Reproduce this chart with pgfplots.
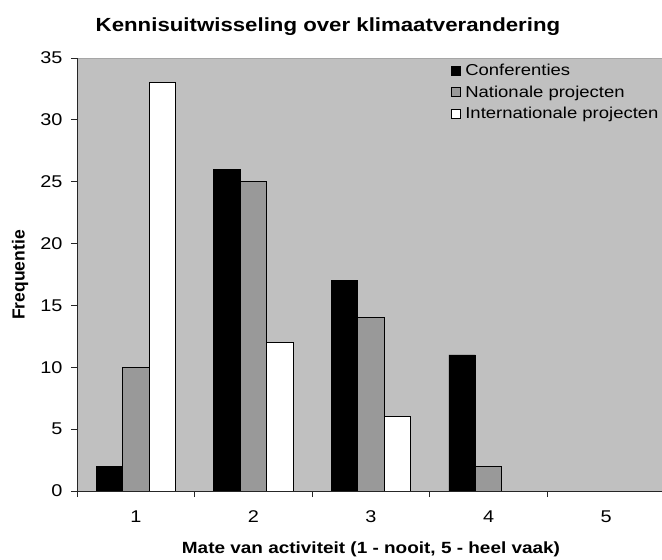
\documentclass[border=0pt]{standalone}
\usepackage{fontspec}
\setmainfont{Liberation Sans}[FakeStretch=1.17]
\newfontfamily\plainsans{Liberation Sans}
\usepackage{pgfplots}
\pgfplotsset{compat=1.18}
\definecolor{plotbg}{RGB}{192,192,192}
\definecolor{bargrey}{RGB}{153,153,153}
\begin{document}
\begin{tikzpicture}[x=1pt,y=1pt]
\begin{axis}[
  at={(77pt,69pt)}, anchor=south west,
  width=588pt, height=433pt, scale only axis,
  xmin=0.5, xmax=5.5, ymin=0, ymax=35,
  ybar=0pt, bar width=0.225,
  axis x line*=bottom, axis y line*=left,
  axis line style={black!85, line width=0.9pt},
  axis background/.style={fill=plotbg, draw=black!35, line width=0.6pt},
  xtick={1,2,3,4,5},
  minor xtick={0.5,1.5,2.5,3.5,4.5},
  ytick={0,5,...,35},
  major x tick style={draw=none},
  minor x tick style={black!85, line width=0.8pt},
  minor tick length=6pt,
  major tick length=6pt,
  y tick style={black!85, line width=0.8pt},
  tick align=outside,
  /pgf/number format/assume math mode=true,
  tick label style={font=\fontsize{17}{20}\selectfont},
  xticklabel style={yshift=-10pt},
  yticklabel style={xshift=-5pt},
  legend style={at={(0.63,0.995)}, anchor=north west, draw=none, fill=none,
    font=\fontsize{15.8}{18}\selectfont, row sep=4.5pt,
    /tikz/every odd column/.append style={column sep=3pt}},
  legend cell align=left,
  legend image code/.code={\draw[#1, draw=black, line width=0.7pt] (0pt,-4.5pt) rectangle (9pt,4.5pt);},
]
\addplot[fill=black, draw=black, line width=0.7pt] coordinates {(1,2) (2,26) (3,17) (4,11)};
\addplot[fill=bargrey, draw=black, line width=0.7pt] coordinates {(1,10) (2,25) (3,14) (4,2)};
\addplot[fill=white, draw=black, line width=0.7pt] coordinates {(1,33) (2,12) (3,6)};
\legend{Conferenties, Nationale projecten, Internationale projecten}
\end{axis}
\node[font=\fontsize{19}{22}\selectfont\bfseries] at (328pt,533pt) {Kennisuitwisseling over klimaatverandering};
\node[font=\fontsize{16.2}{19}\selectfont\bfseries] at (371pt,11pt) {Mate van activiteit (1 - nooit, 5 - heel vaak)};
\node[font=\fontsize{17.5}{20}\selectfont\bfseries\plainsans, rotate=90] at (20pt,285pt) {Frequentie};
\pgfresetboundingbox
\path (0pt,0pt) rectangle (662pt,560pt);
\end{tikzpicture}
\end{document}
